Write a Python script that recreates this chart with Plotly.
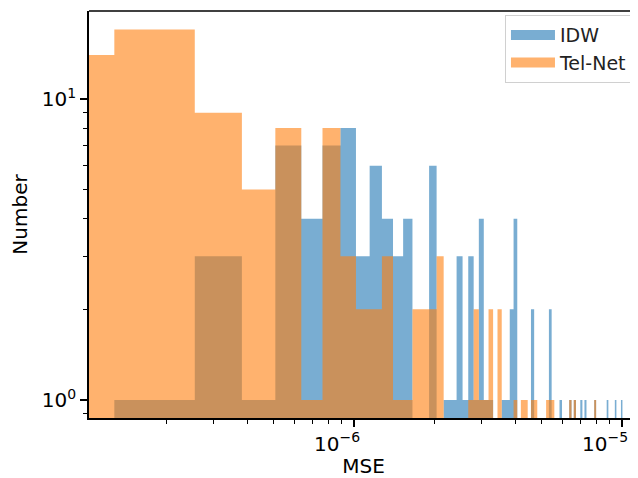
import plotly.graph_objects as go

# ---- data ----
bin_start = 5e-10          # left edge of first histogram bin (MSE)
bin_width = 1.2706e-7      # linear bin width (MSE)

idw_counts = [0, 1, 3, 1, 7, 4, 7, 8, 3, 6,
              4, 3, 4, 0, 0, 6, 0, 1, 1, 3,
              1, 3, 1, 4, 1, 1, 0, 0, 1, 1,
              2, 4, 0, 0, 0, 0, 2, 0, 0, 0,
              0, 0, 2, 0, 0, 0, 1, 0, 0, 0,
              1, 0, 1, 0, 0, 1, 0, 1, 0, 0,
              0, 0, 1, 0, 0, 0, 0, 0, 0, 1,
              0, 0, 0, 0, 1, 0, 0, 0, 1, 0]

telnet_counts = [14, 17, 9, 5, 8, 1, 8, 3, 2, 2,
                 3, 1, 1, 2, 2, 2, 3, 0, 0, 0,
                 0, 1, 2, 1, 1, 2, 0, 2, 0, 0,
                 0, 1, 0, 1, 1, 0, 1, 1, 0, 0,
                 0, 1, 1, 1, 0, 0, 0, 0, 0, 0,
                 1, 0, 1, 0, 0, 0, 0, 0, 0, 0,
                 0, 0, 1, 0, 0, 0, 0, 0, 0, 0,
                 0, 0, 0, 0, 0, 0, 0, 0, 0, 0]

series_names = ["IDW", "Tel-Net"]
series_colors = ["rgba(31,119,180,0.6)", "rgba(255,127,14,0.6)"]

x_tick_vals = [1e-6, 1e-5]
x_tick_text = ["10<sup>−6</sup>", "10<sup>−5</sup>"]
x_minor_vals = [2e-7, 3e-7, 4e-7, 5e-7, 6e-7, 7e-7, 8e-7, 9e-7,
                2e-6, 3e-6, 4e-6, 5e-6, 6e-6, 7e-6, 8e-6, 9e-6]
y_tick_vals = [1, 10]
y_tick_text = ["10<sup>0</sup>", "10<sup>1</sup>"]
y_minor_vals = [0.9, 2, 3, 4, 5, 6, 7, 8, 9]

x_range_log = [-6.9888, -4.9403]
y_range_log = [-0.0598, 1.292]

# the page body has an 8px default margin; the figure is sized to fit inside
PAGE_OFFSET = 8


def step_outline(counts, floor=0.05):
    edges = [bin_start + i * bin_width for i in range(len(counts) + 1)]
    xs, ys = [edges[0]], [floor]
    for i, c in enumerate(counts):
        h = c if c > 0 else floor
        xs += [edges[i], edges[i + 1]]
        ys += [h, h]
    xs.append(edges[-1])
    ys.append(floor)
    return xs, ys


fig = go.Figure()
for name, counts, color in zip(series_names, [idw_counts, telnet_counts], series_colors):
    xs, ys = step_outline(counts)
    fig.add_trace(go.Scatter(
        x=xs, y=ys, mode="lines", fill="toself", fillcolor=color,
        line=dict(width=0, color=color), name=name, hoverinfo="skip",
        showlegend=False))
# legend entries (patch-like swatches)
for name, color in zip(series_names, series_colors):
    fig.add_trace(go.Scatter(
        x=[None], y=[None], mode="lines", name=name,
        line=dict(width=13, color=color), showlegend=True))

font = dict(family="DejaVu Sans", size=20, color="black")

fig.update_layout(
    width=638 - PAGE_OFFSET, height=478 - PAGE_OFFSET,
    margin=dict(l=89 - PAGE_OFFSET, r=0, t=11 - PAGE_OFFSET, b=60, autoexpand=False),
    paper_bgcolor="white", plot_bgcolor="white",
    font=font,
    showlegend=True,
    legend=dict(x=0.7577, y=0.99, xanchor="left", yanchor="top",
                bgcolor="rgba(255,255,255,0.8)", bordercolor="#d0d0d0",
                borderwidth=1, tracegroupgap=0, itemwidth=44,
                font=dict(family="DejaVu Sans", size=19, color="#222")),
    shapes=[dict(type="line", xref="paper", yref="paper", x0=0, x1=1, y0=1, y1=1,
                 line=dict(color="black", width=1.6))],
)

fig.update_xaxes(
    type="log", range=x_range_log, automargin=False,
    showline=True, linecolor="black", linewidth=1.6, mirror=False,
    showgrid=False, zeroline=False,
    tickmode="array", tickvals=x_tick_vals, ticktext=x_tick_text,
    ticklabeloverflow="allow", ticklabelshift=-17,
    ticks="outside", ticklen=7, tickwidth=1.6, tickcolor="black",
    minor=dict(tickmode="array", tickvals=x_minor_vals, ticks="outside",
               ticklen=4, tickwidth=1.2, tickcolor="black", showgrid=False),
    title=dict(text="MSE", font=font, standoff=4),
)
fig.update_yaxes(
    type="log", range=y_range_log, automargin=False,
    showline=True, linecolor="black", linewidth=1.6, mirror=False,
    showgrid=False, zeroline=False,
    tickmode="array", tickvals=y_tick_vals, ticktext=y_tick_text,
    ticks="outside", ticklen=7, tickwidth=1.6, tickcolor="black",
    minor=dict(tickmode="array", tickvals=y_minor_vals, ticks="outside",
               ticklen=4, tickwidth=1.2, tickcolor="black", showgrid=False),
    title=dict(text="Number", font=font, standoff=12),
)

fig.write_html("out.html")
